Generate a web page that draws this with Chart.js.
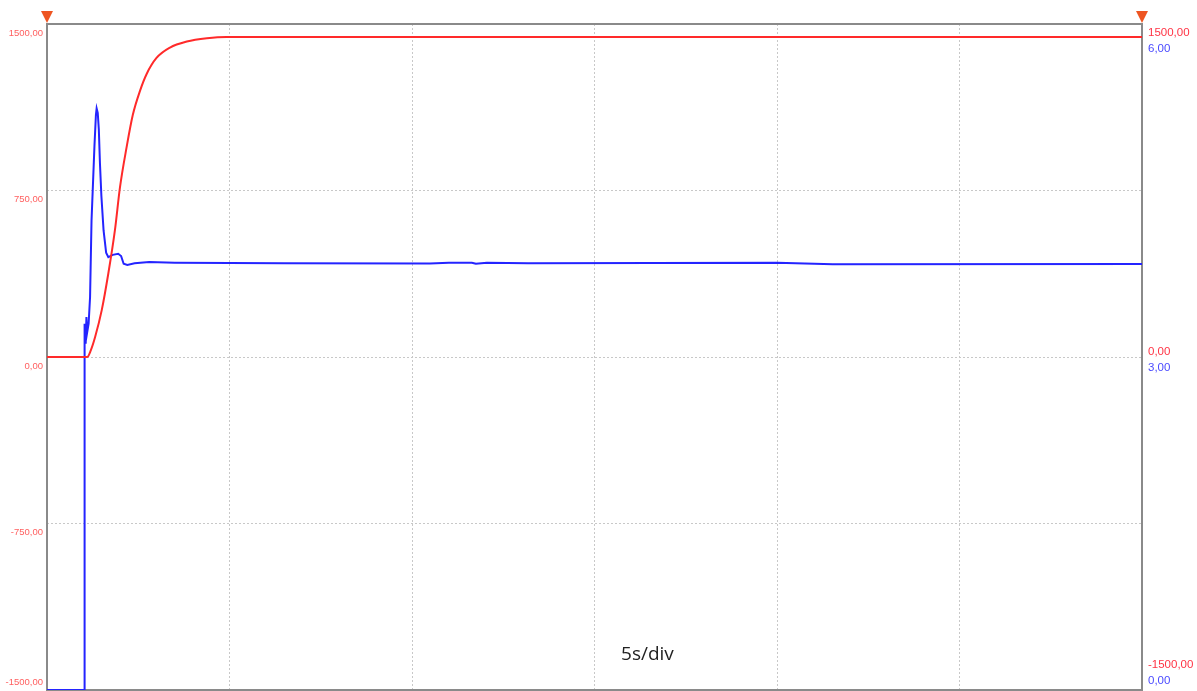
<!DOCTYPE html>
<html>
<head>
<meta charset="utf-8">
<script src="https://cdn.jsdelivr.net/npm/chart.js@4/dist/chart.umd.min.js"></script>
<style>
  html, body { margin: 0; padding: 0; background: #fff; }
  #wrap { width: 1197px; height: 691px; }
</style>
</head>
<body>
<div id="wrap"><canvas id="scope"></canvas></div>
<script>
// time axis, seconds (5 s per division, 6 divisions)
const redTime  = [0, 1.10, 1.20, 1.32, 1.50, 1.68, 1.86, 2.00, 2.18, 2.35, 2.55, 2.73, 3.00, 3.37, 3.83, 4.38, 4.92, 30];
const redValue = [0, 0, 30, 91, 211, 376, 570, 765, 944, 1090, 1200, 1275, 1347, 1394, 1421, 1436, 1442, 1442];

const blueTime  = [0, 1.02, 1.03, 1.06, 1.08, 1.10, 1.14, 1.18, 1.22, 1.30, 1.34, 1.36, 1.39, 1.42, 1.45, 1.49, 1.55, 1.62, 1.68,
                   1.80, 1.95, 2.03, 2.10, 2.20, 2.40, 2.80, 3.50, 6.50, 10.49, 11.01, 11.64, 11.75, 12.05, 13.18, 20.0, 21.53, 30];
const blueValue = [0, 0, 3.30, 3.12, 3.36, 3.22, 3.30, 3.54, 4.23, 4.90, 5.18, 5.24, 5.20, 5.05, 4.75, 4.45, 4.14, 3.94, 3.90,
                   3.92, 3.93, 3.91, 3.84, 3.83, 3.845, 3.855, 3.85, 3.845, 3.842, 3.849, 3.849, 3.840, 3.849, 3.845, 3.849, 3.835, 3.838];

const leftTicks = [1500, 750, 0, -750, -1500];
const rightRedTicks = [1500, 0, -1500];
const rightBlueTicks = [6, 3, 0];

const fmt = v => v.toFixed(2).replace('.', ',');
const zeroSize = s => { s.width = 0; s.height = 0; };

const gridStyle = {
  color: '#c8c8c8',
  lineWidth: 1,
  drawTicks: false
};

const scopeDecor = {
  id: 'scopeDecor',
  beforeDatasetsDraw(chart) {
    const { ctx, chartArea: a } = chart;
    ctx.save();
    ctx.strokeStyle = '#8a8a8a';
    ctx.lineWidth = 2;
    ctx.strokeRect(a.left, a.top, a.right - a.left, a.bottom - a.top);
    ctx.restore();
  },
  afterDraw(chart) {
    const { ctx, chartArea: a } = chart;
    const yR = chart.scales.y;
    ctx.save();

    // left labels
    ctx.font = '9.5px "Liberation Sans", Arial, sans-serif';
    ctx.fillStyle = '#ff6060';
    ctx.textAlign = 'right';
    ctx.textBaseline = 'middle';
    leftTicks.forEach(v => {
      let py = Math.min(yR.getPixelForValue(v) + 9, a.bottom - 8);
      ctx.fillText(fmt(v), a.left - 4, py);
    });

    // right labels (red over blue)
    ctx.font = '11.5px "Liberation Sans", Arial, sans-serif';
    ctx.textAlign = 'left';
    rightRedTicks.forEach((v, i) => {
      let c = yR.getPixelForValue(v) + 3;
      c = Math.max(c, a.top + 17);
      c = Math.min(c, a.bottom - 17);
      ctx.fillStyle = '#ff3344';
      ctx.fillText(fmt(v), a.right + 6, c - 8);
      ctx.fillStyle = '#4a4aff';
      ctx.fillText(fmt(rightBlueTicks[i]), a.right + 6, c + 8);
    });

    // trigger markers
    ctx.fillStyle = '#ee5522';
    [a.left, a.right].forEach(x => {
      ctx.beginPath();
      ctx.moveTo(x - 6, a.top - 13);
      ctx.lineTo(x + 6, a.top - 13);
      ctx.lineTo(x, a.top - 1);
      ctx.closePath();
      ctx.fill();
    });

    // time base
    ctx.font = '19px "Open Sans", "Noto Sans", sans-serif';
    ctx.fillStyle = '#222';
    ctx.textAlign = 'center';
    ctx.fillText('5s/div', chart.scales.x.getPixelForValue(16.45), a.bottom - 35);
    ctx.restore();
  }
};

new Chart(document.getElementById('scope'), {
  type: 'line',
  data: {
    datasets: [
      {
        label: 'speed',
        data: redTime.map((t, i) => ({ x: t, y: redValue[i] })),
        borderColor: '#ff2a2a',
        borderWidth: 2,
        pointRadius: 0,
        cubicInterpolationMode: 'monotone',
        yAxisID: 'y'
      },
      {
        label: 'current',
        data: blueTime.map((t, i) => ({ x: t, y: blueValue[i] })),
        borderColor: '#2424ff',
        borderWidth: 2,
        pointRadius: 0,
        tension: 0,
        yAxisID: 'yB'
      }
    ]
  },
  options: {
    responsive: true,
    maintainAspectRatio: false,
    animation: false,
    layout: { padding: { left: 47, right: 55, top: 24, bottom: 1 } },
    plugins: { legend: { display: false }, tooltip: { enabled: false } },
    scales: {
      x: {
        type: 'linear',
        min: 0, max: 30,
        ticks: { display: false, stepSize: 5 },
        grid: gridStyle,
        border: { display: false, dash: [2, 2] },
        afterFit: zeroSize
      },
      y: {
        position: 'left',
        min: -1500, max: 1500,
        ticks: { display: false, stepSize: 750 },
        grid: gridStyle,
        border: { display: false, dash: [2, 2] },
        afterFit: zeroSize
      },
      yB: {
        position: 'right',
        min: 0, max: 6,
        display: false
      }
    }
  },
  plugins: [scopeDecor]
});
</script>
</body>
</html>
